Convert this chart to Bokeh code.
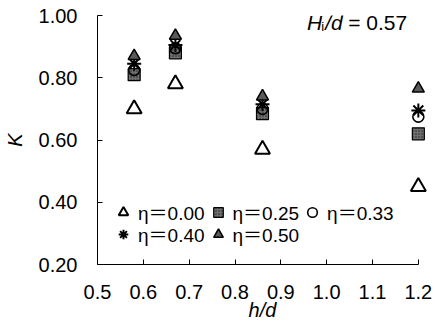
from bokeh.plotting import figure
from bokeh.models import Range1d, FixedTicker, NumeralTickFormatter, Label, Legend, LegendItem
from bokeh.embed import file_html
from bokeh.resources import INLINE

# data
hd = [0.58, 0.67, 0.86, 1.20]
K_eta000 = [0.70, 0.78, 0.57, 0.45]
K_eta025 = [0.81, 0.88, 0.685, 0.62]
K_eta033 = [0.825, 0.895, 0.70, 0.675]
K_eta040 = [0.845, 0.905, 0.715, 0.695]
K_eta050 = [0.87, 0.935, 0.74, 0.765]
legend_labels = ["η＝0.00", "η＝0.25", "η＝0.33", "η＝0.40", "η＝0.50"]
x_ticks = [0.5, 0.6, 0.7, 0.8, 0.9, 1.0, 1.1, 1.2]
y_ticks = [0.2, 0.4, 0.6, 0.8, 1.0]

FONT = "Liberation Sans, Noto Sans CJK SC"

p = figure(width=435, height=325, output_backend="svg", toolbar_location=None,
           x_range=Range1d(0.5, 1.22), y_range=Range1d(0.2, 1.0),
           min_border_left=97, min_border_right=8, min_border_top=15, min_border_bottom=61)
p.outline_line_color = None
p.grid.visible = False
p.background_fill_color = "white"

for ax in (p.xaxis[0], p.yaxis[0]):
    ax.major_tick_in = 5
    ax.major_tick_out = 0
    ax.minor_tick_line_color = None
    ax.axis_line_color = "black"
    ax.major_tick_line_color = "black"
    ax.major_label_text_font = FONT
    ax.major_label_text_font_size = "20px"
    ax.major_label_text_color = "black"
    ax.axis_label_text_font = FONT
    ax.axis_label_text_font_size = "20px"
    ax.axis_label_text_font_style = "italic"
    ax.axis_label_text_color = "black"

p.xaxis.ticker = FixedTicker(ticks=x_ticks)
p.xaxis.formatter = NumeralTickFormatter(format="0.0")
p.xaxis.bounds = (0.5, 1.2)
p.xaxis.axis_label = "h/d"
p.xaxis.major_label_standoff = 20
p.xaxis.axis_label_standoff = -3

p.yaxis.ticker = FixedTicker(ticks=y_ticks)
p.yaxis.formatter = NumeralTickFormatter(format="0.00")
p.yaxis.axis_label = "K"
p.yaxis.major_label_standoff = 20
p.yaxis.axis_label_standoff = 10

r0 = p.scatter(hd, K_eta000, marker="triangle", size=15, fill_color=None,
               line_color="black", line_width=2)
r1 = p.scatter(hd, K_eta025, marker="square", size=12, fill_color="#707070",
               line_color="black", line_width=1.2, hatch_pattern="dot",
               hatch_color="#222222", hatch_scale=3)
r2 = p.scatter(hd, K_eta033, marker="circle", size=11, fill_color=None,
               line_color="black", line_width=1.6)
r3 = p.scatter(hd, K_eta040, marker="asterisk", size=14, line_color="black",
               line_width=2)
r4 = p.scatter(hd, K_eta050, marker="triangle", size=12, fill_color="#5a5a5a",
               line_color="black", line_width=1.5)

renderers = [r0, r1, r2, r3, r4]

def make_legend(idx, loc):
    items = [LegendItem(label=legend_labels[i], renderers=[renderers[i]]) for i in idx]
    return Legend(items=items, orientation="horizontal", location=loc,
                  padding=0, margin=0, spacing=0,
                  border_line_color=None, background_fill_alpha=0,
                  label_text_font=FONT, label_text_font_size="19px",
                  label_text_color="black",
                  label_standoff=2, glyph_width=26, glyph_height=24,
                  label_height=24)

p.add_layout(make_legend([0, 1, 2], (13, 39)), "center")
p.add_layout(make_legend([3, 4], (13, 17)), "center")

def px2x(px):
    return 0.5 + (px - 97) / 457.0

def py2y(py):
    return 1.0 - (py - 15) / 310.0

lbl = dict(text_font=FONT, text_color="black", text_baseline="alphabetic")
p.add_layout(Label(x=px2x(306), y=py2y(22), text="H", text_font_size="21px",
                   text_font_style="italic", **lbl))
p.add_layout(Label(x=px2x(320), y=py2y(26), text="i", text_font_size="13px", **lbl))
p.add_layout(Label(x=px2x(324), y=py2y(22), text="/d", text_font_size="21px",
                   text_font_style="italic", **lbl))
p.add_layout(Label(x=px2x(347), y=py2y(22), text="= 0.57", text_font_size="21px", **lbl))

open("out.html", "w").write(file_html(p, INLINE))
